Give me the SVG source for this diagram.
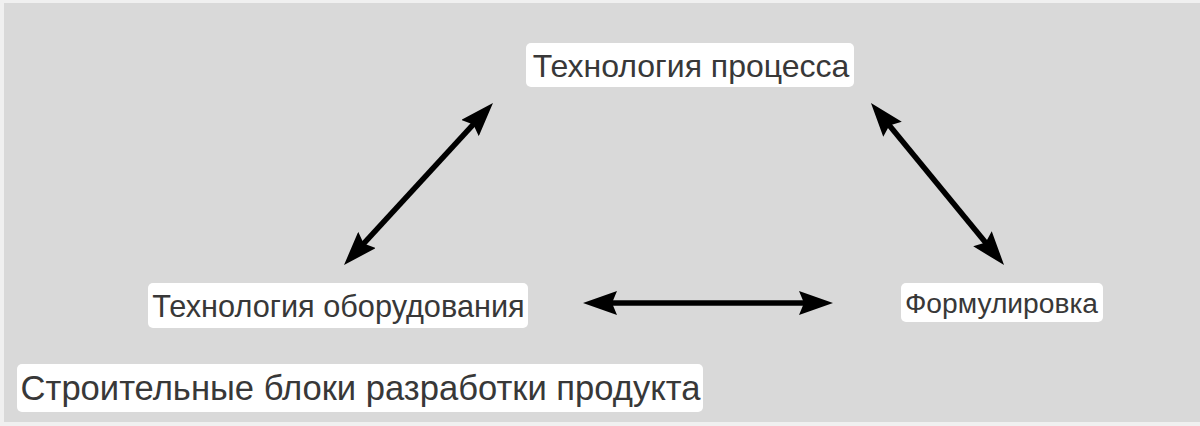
<svg xmlns="http://www.w3.org/2000/svg" width="1200" height="426" viewBox="0 0 1200 426">
  <style>
    .box { fill: #ffffff; }
    .lbl { font-family: "Liberation Sans", Arial, sans-serif; fill: #383838; text-anchor: middle; }
    .con { stroke: #000000; stroke-width: 5.5; fill: none; marker-start: url(#ah); marker-end: url(#ah); }
  </style>
  <defs>
    <marker id="ah" viewBox="0 0 34 24" refX="24" refY="12" markerWidth="34" markerHeight="24" markerUnits="userSpaceOnUse" orient="auto-start-reverse">
      <path d="M0,0 L34,12 L0,24 L5,12 Z" fill="#000000"/>
    </marker>
  </defs>
  <rect x="0" y="0" width="1200" height="426" fill="#f0f0f0"/>
  <rect x="4" y="3" width="1196" height="419" fill="#d9d9d9"/>

  <g id="connectors">
    <line class="con" x1="350.8" y1="257.6" x2="486.2" y2="110.4"/>
    <line class="con" x1="877.3" y1="110.7" x2="997.7" y2="257.3"/>
    <line class="con" x1="593" y1="303" x2="823" y2="303"/>
  </g>

  <g id="node-process">
    <rect class="box" x="526" y="43" width="328" height="44" rx="5"/>
    <text class="lbl" x="691" y="77" font-size="32">Технология процесса</text>
  </g>

  <g id="node-equipment">
    <rect class="box" x="148" y="283" width="380" height="45" rx="5"/>
    <text class="lbl" x="338.5" y="317" font-size="30.7">Технология оборудования</text>
  </g>

  <g id="node-formulation">
    <rect class="box" x="901" y="283" width="202" height="39" rx="5"/>
    <text class="lbl" x="1001.5" y="313" font-size="28.2">Формулировка</text>
  </g>

  <g id="title">
    <rect class="box" x="17" y="364" width="686" height="48" rx="5"/>
    <text class="lbl" x="360.5" y="400" font-size="34.6">Строительные блоки разработки продукта</text>
  </g>
</svg>
